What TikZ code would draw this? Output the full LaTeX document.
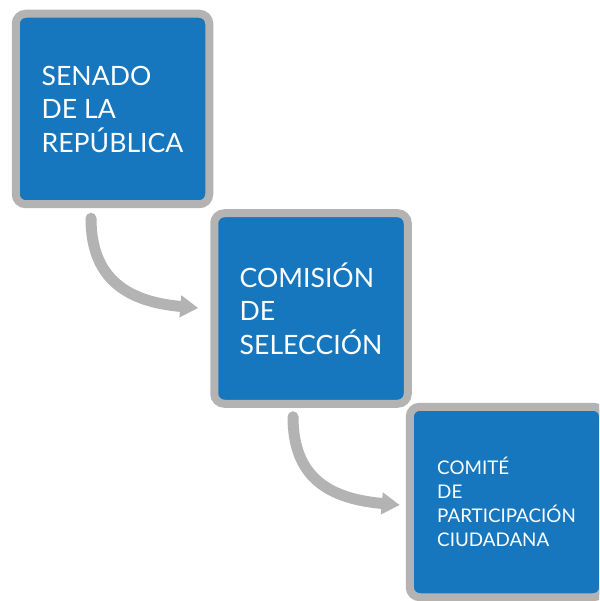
\documentclass[tikz,border=0pt]{standalone}
\usepackage{fontspec}
\setmainfont{Lato}
\usetikzlibrary{arrows.meta}
\definecolor{boxblue}{RGB}{23,119,190}
\definecolor{rimgray}{RGB}{179,179,179}

\begin{document}
\begin{tikzpicture}[x=1pt,y=1pt,
	organo/.style={draw=rimgray,line width=8pt,fill=boxblue,rounded corners=10pt,
	               minimum width=193.5pt,minimum height=190.5pt,inner sep=0pt,
	               text=white,align=left,font=\fontsize{26.6}{33.5}\selectfont},
	paso/.style={draw=rimgray,line width=11pt,line cap=round,
	             -{Triangle[length=18pt,width=21pt]}}]
	\clip (0,0) rectangle (599,-601);
	\node[organo] (senado) at (112.5,-109) {SENADO\\DE LA\\REPÚBLICA};
	\node[organo] (comision) at (311,-308.5) {COMISIÓN\\DE\\SELECCIÓN};
	\node[organo,font=\fontsize{18.8}{23.8}\selectfont] (comite) at (506.5,-502)
	     {COMITÉ\\DE\\PARTICIPACIÓN\\CIUDADANA};
	% curved connectors
	\coordinate (p1) at ([shift={(-21.5,-10)}]senado.south);
	\coordinate (q1) at ([shift={(-12,0.5)}]comision.west);
	\coordinate (p2) at ([shift={(-18,-9)}]comision.south);
	\coordinate (q2) at ([shift={(-6,-3)}]comite.west);
	\draw[paso] (p1) .. controls ([yshift=-63]p1) and ([shift={(-68,6)}]q1) .. (q1);
	\draw[paso] (p2) .. controls ([yshift=-63]p2) and ([shift={(-68,6)}]q2) .. (q2);
\end{tikzpicture}
\end{document}
